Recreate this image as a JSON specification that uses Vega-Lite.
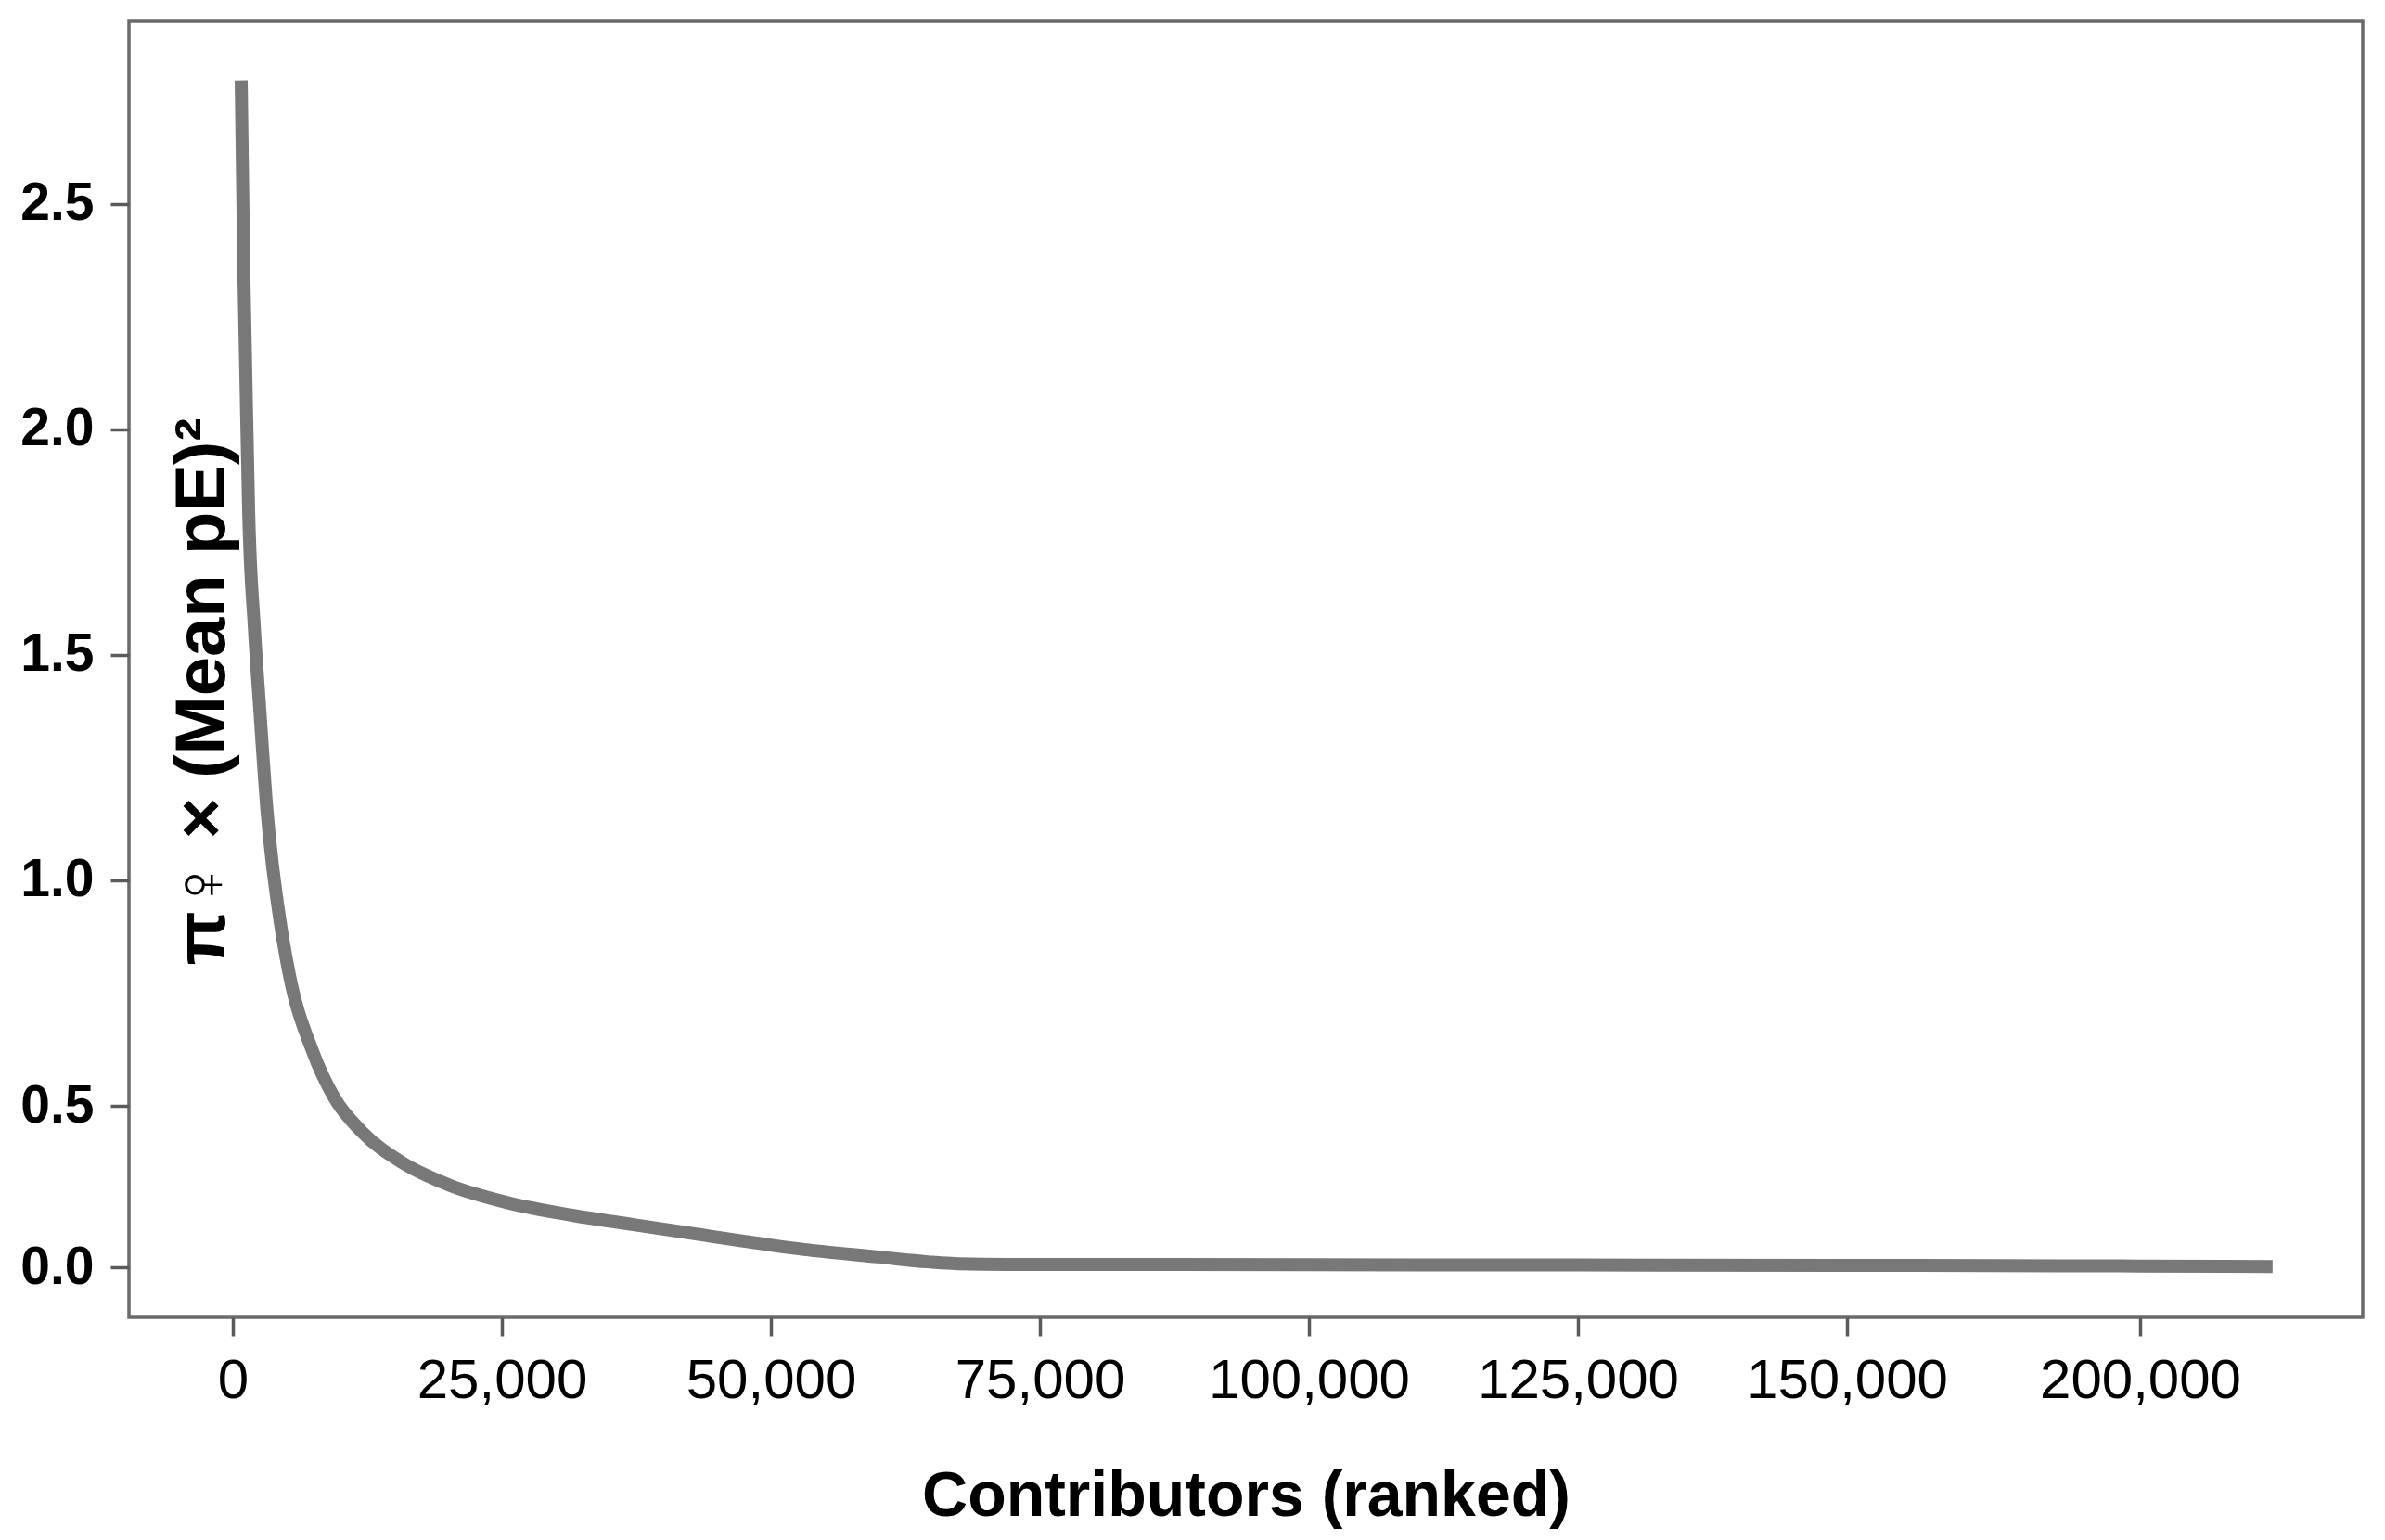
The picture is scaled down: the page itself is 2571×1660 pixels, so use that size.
{
  "$schema": "https://vega.github.io/schema/vega-lite/v6.json",
  "width": 2408,
  "height": 1397,
  "autosize": {"type": "none"},
  "padding": {"left": 139, "top": 23, "right": 24, "bottom": 240},
  "background": "white",
  "view": {"stroke": "#6a6a6a", "strokeWidth": 3.5},
  "config": {
    "font": "Liberation Sans",
    "axis": {
      "domain": false,
      "grid": false,
      "tickColor": "#5a5a5a",
      "tickWidth": 3.5,
      "tickSize": 20,
      "labelColor": "black",
      "titleColor": "black",
      "labelLimit": 0,
      "labelFont": "Liberation Sans",
      "titleFont": "Liberation Sans"
    }
  },
  "data": {
    "values": [
      {"rank": 776, "value": 2.774},
      {"rank": 1030, "value": 2.335},
      {"rank": 1200, "value": 2.13},
      {"rank": 1466, "value": 1.821},
      {"rank": 2000, "value": 1.56},
      {"rank": 2500, "value": 1.38},
      {"rank": 3190, "value": 1.15},
      {"rank": 4480, "value": 0.895},
      {"rank": 5260, "value": 0.79},
      {"rank": 7410, "value": 0.621},
      {"rank": 9400, "value": 0.519},
      {"rank": 11980, "value": 0.42},
      {"rank": 15690, "value": 0.325},
      {"rank": 20000, "value": 0.256},
      {"rank": 25780, "value": 0.198},
      {"rank": 31550, "value": 0.161},
      {"rank": 37240, "value": 0.132},
      {"rank": 43020, "value": 0.103},
      {"rank": 53100, "value": 0.055},
      {"rank": 60000, "value": 0.032},
      {"rank": 64570, "value": 0.017},
      {"rank": 67400, "value": 0.011},
      {"rank": 72000, "value": 0.009},
      {"rank": 81800, "value": 0.009},
      {"rank": 100000, "value": 0.008},
      {"rank": 125000, "value": 0.007},
      {"rank": 150000, "value": 0.006},
      {"rank": 175000, "value": 0.005},
      {"rank": 200000, "value": 0.004},
      {"rank": 222600, "value": 0.002}
    ]
  },
  "mark": {
    "type": "line",
    "color": "#787878",
    "strokeWidth": 14,
    "strokeCap": "butt",
    "interpolate": "monotone"
  },
  "encoding": {
    "x": {
      "field": "rank",
      "type": "quantitative",
      "scale": {
        "domain": [-9655, 150000, 200000, 237975],
        "range": [0, 1852, 2168, 2408],
        "nice": false,
        "zero": false
      },
      "axis": {
        "values": [0, 25000, 50000, 75000, 100000, 125000, 150000, 200000],
        "format": ",.0f",
        "labelFontSize": 60,
        "labelPadding": 19,
        "title": "Contributors (ranked)",
        "titleFontSize": 68,
        "titleFontWeight": "bold",
        "titleBaseline": "alphabetic",
        "titleY": 213
      }
    },
    "y": {
      "field": "value",
      "type": "quantitative",
      "scale": {
        "domain": [-0.155, 0.5, 2.905],
        "range": [1397, 1169, 0],
        "nice": false,
        "zero": false
      },
      "axis": {
        "values": [0, 0.5, 1, 1.5, 2, 2.5],
        "format": ".1f",
        "labelFontSize": 57,
        "labelFontWeight": "bold",
        "labelPadding": 18,
        "title": "π♀ × (Mean pE)²",
        "titleFontSize": 76,
        "titleFontWeight": "bold",
        "titleAngle": 270,
        "titleAlign": "center",
        "titleBaseline": "alphabetic",
        "titleX": 102,
        "titleY": 722
      }
    }
  }
}
